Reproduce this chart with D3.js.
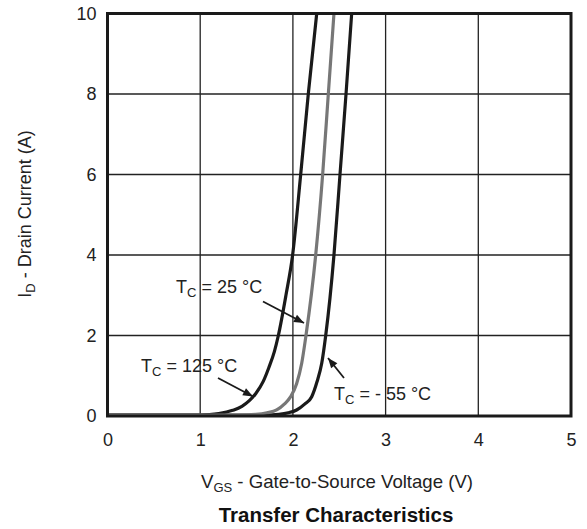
<!DOCTYPE html>
<html><head><meta charset="utf-8">
<script src="https://cdn.jsdelivr.net/npm/d3@7"></script>
<style>body{margin:0;background:#fff}svg{display:block;font-family:"Liberation Sans",Arial,sans-serif}</style>
</head><body>
<svg id="c" width="587" height="529"></svg>
<script>
const xTicks = [0,1,2,3,4,5];
const yTicks = [0,2,4,6,8,10];
const series125 = [[0,0.02],[0.9,0.02],[1.1,0.035],[1.2,0.06],[1.35,0.14],[1.45,0.24],[1.53,0.38],[1.6,0.56],[1.68,0.86],[1.74,1.2],[1.8,1.6],[1.843,2],[1.925,3],[1.997,4],[2.084,6],[2.166,8],[2.257,10]];
const series25 = [[0,0.02],[1.4,0.02],[1.6,0.04],[1.72,0.08],[1.825,0.15],[1.91,0.3],[1.976,0.48],[2.04,0.8],[2.095,1.31],[2.141,2],[2.246,4],[2.321,6],[2.382,8],[2.443,10]];
const seriesM55 = [[0,0.02],[1.7,0.02],[1.85,0.04],[1.95,0.08],[2.04,0.15],[2.13,0.3],[2.203,0.48],[2.26,0.85],[2.311,1.31],[2.354,2],[2.443,4],[2.508,6],[2.573,8],[2.634,10]];
const seriesNames = ["125", "25", "- 55"];

const svg = d3.select("#c");
const L=107.5, R=571, T=13.5, B=416;
const FS=18, SUB=13;
const x = d3.scaleLinear().domain([0,5]).range([L,R]);
const y = d3.scaleLinear().domain([0,10]).range([B,T]);

// grid
const g = svg.append("g");
g.selectAll(".vx").data(xTicks.slice(1,-1)).enter().append("line")
 .attr("x1",d=>x(d)).attr("x2",d=>x(d)).attr("y1",T).attr("y2",B)
 .attr("stroke","#222").attr("stroke-width",1.3);
g.selectAll(".hy").data(yTicks.slice(1,-1)).enter().append("line")
 .attr("y1",d=>y(d)).attr("y2",d=>y(d)).attr("x1",L).attr("x2",R)
 .attr("stroke","#222").attr("stroke-width",1.3);

// axes labels
const xa = svg.append("g").attr("transform",`translate(0,${B})`).call(d3.axisBottom(x).tickValues(xTicks).tickSize(0).tickPadding(17).tickFormat(d3.format("d")));
xa.select(".domain").remove();
xa.selectAll("text").attr("font-size",FS).attr("fill","#222").attr("font-family","Liberation Sans, Arial, sans-serif");
const ya = svg.append("g").attr("transform",`translate(${L},0)`).call(d3.axisLeft(y).tickValues(yTicks).tickSize(0).tickPadding(11).tickFormat(d3.format("d")));
ya.select(".domain").remove();
ya.selectAll("text").attr("font-size",FS).attr("fill","#222").attr("font-family","Liberation Sans, Arial, sans-serif");

// curves
const line = d3.line().x(d=>x(d[0])).y(d=>y(d[1])).curve(d3.curveMonotoneX);
svg.append("clipPath").attr("id","pc").append("rect").attr("x",L).attr("y",T).attr("width",R-L).attr("height",B-T);
const cg = svg.append("g").attr("clip-path","url(#pc)");
[[series125,"#1a1a1a"],[seriesM55,"#1a1a1a"],[series25,"#777"]].forEach(([s,c])=>{
  cg.append("path").datum(s).attr("d",line).attr("fill","none").attr("stroke",c).attr("stroke-width",3.2);
});

// frame
svg.append("rect").attr("x",L).attr("y",T).attr("width",R-L).attr("height",B-T)
 .attr("fill","none").attr("stroke","#1a1a1a").attr("stroke-width",3);

// annotations
function label(xp, yp, temp){
  const t = svg.append("text").attr("x",xp).attr("y",yp).attr("font-size",FS).attr("fill","#222");
  t.append("tspan").text("T");
  t.append("tspan").attr("font-size",SUB).attr("dy",4).text("C");
  t.append("tspan").attr("dy",-4).text(" = " + temp + " °C");
}
function arrow(x1,y1,x2,y2){
  svg.append("line").attr("x1",x1).attr("y1",y1).attr("x2",x2).attr("y2",y2).attr("stroke","#1a1a1a").attr("stroke-width",1.8);
  const a = Math.atan2(y2-y1,x2-x1), len=10, w=4;
  const bx = x2-len*Math.cos(a), by=y2-len*Math.sin(a);
  const px=-Math.sin(a)*w, py=Math.cos(a)*w;
  svg.append("path").attr("d",`M${x2},${y2}L${bx+px},${by+py}L${bx-px},${by-py}Z`).attr("fill","#1a1a1a");
}
label(141, 371.5, seriesNames[0]);
arrow(218,378,253,396.5);
label(176, 293, seriesNames[1]);
arrow(263,301.5,304,323);
label(334, 400, seriesNames[2]);
arrow(344,378,328,358);

// axis titles
const xt = svg.append("text").attr("x",337).attr("y",488).attr("text-anchor","middle").attr("font-size",18.6).attr("fill","#222");
xt.append("tspan").text("V");
xt.append("tspan").attr("font-size",SUB).attr("dy",4).text("GS");
xt.append("tspan").attr("dy",-4).text(" - Gate-to-Source Voltage (V)");

const yt = svg.append("text").attr("transform","translate(31,214) rotate(-90)").attr("text-anchor","middle").attr("font-size",FS).attr("fill","#222");
yt.append("tspan").text("I");
yt.append("tspan").attr("font-size",SUB).attr("dy",4).text("D");
yt.append("tspan").attr("dy",-4).text(" - Drain Current (A)");

svg.append("text").attr("x",336).attr("y",522).attr("text-anchor","middle").attr("font-size",20.5).attr("font-weight","bold").attr("fill","#111").text("Transfer Characteristics");
</script>
</body></html>
